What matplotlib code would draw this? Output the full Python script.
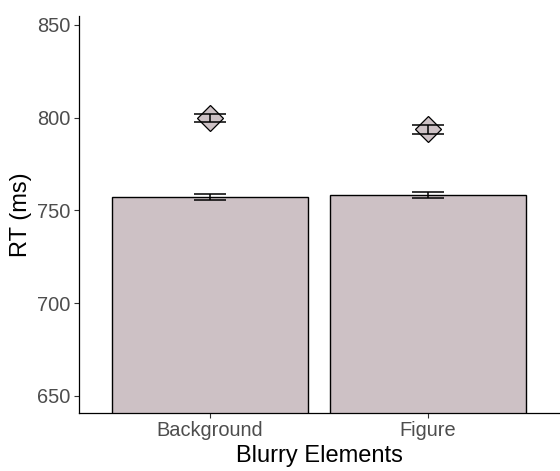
import matplotlib
matplotlib.use("Agg")
import matplotlib.pyplot as plt
import numpy as np

plt.rcParams['font.family'] = ['Liberation Sans', 'DejaVu Sans']

categories = ["Background", "Figure"]
bar_means = [757.2, 758.3]
bar_err = [1.8, 1.7]
point_means = [800.0, 793.7]
point_err = [2.15, 2.3]

fill = "#CDC1C5"

fig = plt.figure(figsize=(5.6, 4.71), dpi=100)
ax = fig.add_axes([79/560, 1 - 413/471, 480/560, 397/471])

x = np.arange(1, len(categories) + 1)
ax.bar(x, bar_means, width=0.9, color=fill, edgecolor="black", linewidth=1.0, zorder=2)

cap = 0.075
for xi, m, e in zip(x, bar_means, bar_err):
    ax.vlines(xi, m - e, m + e, color="black", lw=1.1, zorder=3)
    ax.hlines([m - e, m + e], xi - cap, xi + cap, color="black", lw=1.1, zorder=3)

ax.plot(x, point_means, linestyle="none", marker="D", markersize=13.5,
        markerfacecolor=fill, markeredgecolor="black", markeredgewidth=0.9, zorder=4)
for xi, m, e in zip(x, point_means, point_err):
    ax.vlines(xi, m - e, m + e, color="black", lw=1.1, zorder=5)
    ax.hlines([m - e, m + e], xi - cap, xi + cap, color="black", lw=1.1, zorder=5)

ax.set_xlim(0.4, 2.6)
ax.set_ylim(640.8, 854.85)
ax.set_xticks(x)
ax.set_xticklabels(categories)
ax.set_yticks([650, 700, 750, 800, 850])

for s in ["top", "right"]:
    ax.spines[s].set_visible(False)
for s in ["left", "bottom"]:
    ax.spines[s].set_linewidth(0.9)
    ax.spines[s].set_color("black")

ax.tick_params(axis="both", length=3.6, width=0.8, color="#333333",
               labelcolor="#4D4D4D", labelsize=14.4, pad=2.5)
ax.set_xlabel("Blurry Elements", fontsize=17, color="black", labelpad=3)
ax.set_ylabel("RT (ms)", fontsize=17, color="black", labelpad=4)

fig.savefig("out.png", dpi=100)
